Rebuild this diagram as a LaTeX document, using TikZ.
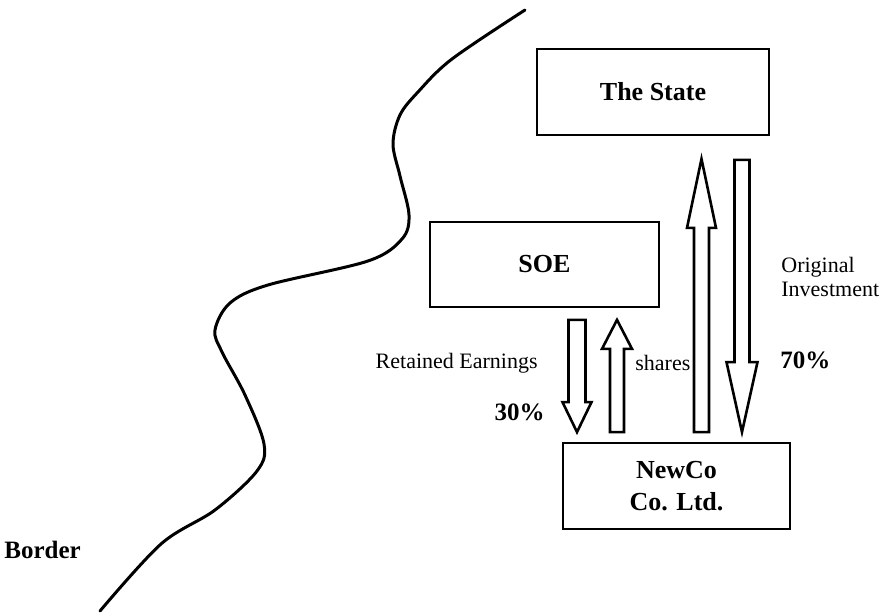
\documentclass[tikz,border=0pt]{standalone}
\usepackage{fontspec}
\setmainfont{Liberation Serif}
\usetikzlibrary{calc}

% hollow block arrow from #1 to #2 (vertical): shaft half width, head half width, head length
\newcommand{\hollowarrow}[5]{%
  \draw[hollow] let \p1=(#1), \p2=(#2), \n1={sign(\y2-\y1)*#5} in
    ({\x1-#3},\y1) -- ({\x1-#3},{\y2-\n1}) -- ({\x1-#4},{\y2-\n1}) -- (\x1,\y2)
    -- ({\x1+#4},{\y2-\n1}) -- ({\x1+#3},{\y2-\n1}) -- ({\x1+#3},\y1) -- cycle;
}

\begin{document}
\begin{tikzpicture}[x=0.5pt, y=-0.5pt, entity/.style={draw, line width=0.9pt, minimum width=116pt, minimum height=43pt, font=\fontsize{13}{16}\selectfont\bfseries, align=center}]
\tikzstyle{note}=[font=\fontsize{11}{12}\selectfont, inner sep=0pt]
\tikzstyle{notebold}=[font=\fontsize{12.5}{15}\selectfont\bfseries, inner sep=0pt]
\tikzstyle{hollow}=[line width=1.3pt, line join=miter]
\tikzstyle{border}=[line width=1.5pt, line cap=round, line join=round]
\useasboundingbox (0,0) rectangle (885,614);

\node (State) [entity] at (653,92) {The State};
\node (SOE) [entity, minimum width=114.5pt, minimum height=42.5pt] at (544.5,264.5) {SOE};
\node (NewCo) [entity, minimum width=113.5pt] at (676.5,486) {NewCo\\Co. Ltd.};

% SOE - NewCo
\coordinate (reA) at ($(SOE.south)+(32.5,12)$);
\coordinate (reB) at ($(NewCo.north)+(-99.5,-10)$);
\hollowarrow{reA}{reB}{4.25pt}{7.25pt}{15pt}
\coordinate (shA) at ($(NewCo.north)+(-59.5,-10)$);
\coordinate (shB) at ($(SOE.south)+(72.5,12)$);
\hollowarrow{shA}{shB}{3.5pt}{7.5pt}{14.5pt}

% State - NewCo
\coordinate (inA) at ($(NewCo.north)+(25,-10)$);
\coordinate (inB) at ($(State.south)+(48.5,23)$);
\hollowarrow{inA}{inB}{3.75pt}{7.25pt}{34.5pt}
\coordinate (oiA) at ($(State.south)+(89,24)$);
\coordinate (oiB) at ($(NewCo.north)+(65.5,-10)$);
\hollowarrow{oiA}{oiB}{3.75pt}{7.75pt}{35pt}

% labels
\node (retained) [note, anchor=east] at (538,363) {Retained Earnings};
\node (pct30) [notebold, anchor=east] at (545,412) {30\%};
\node (shares) [note, anchor=west] at (635,363) {shares};
\node (pct70) [notebold, anchor=west] at (780,360) {70\%};
\node (orig) [note, anchor=west, align=left] at (781,277) {Original\\Investment};
\node (border) [notebold, anchor=west] at (4,550) {Border};

% border line
\draw[border] plot[smooth, tension=0.55] coordinates {(525,10) (452,59) (418,92) (400,115) (393,144) (400,176) (409,215) (402,239) (368,261) (268,285) (230,303) (215,330) (222,352) (245,395) (264,444) (257,471) (215,510) (161,544) (100,611)};
\end{tikzpicture}
\end{document}
